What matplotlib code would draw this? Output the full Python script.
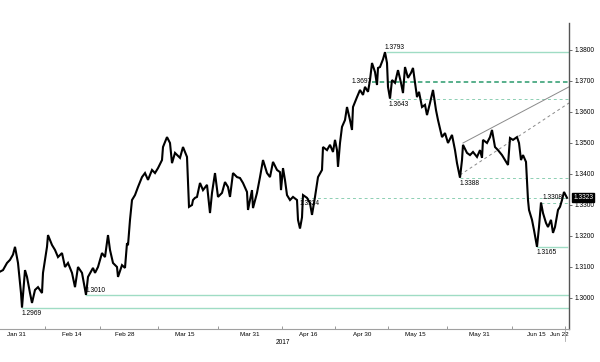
import matplotlib
matplotlib.use("Agg")
import matplotlib.pyplot as plt

plt.rcParams['font.family'] = ['Liberation Sans Narrow', 'Liberation Sans', 'DejaVu Sans']

# time index (chart sessions) and GBP price
t = [0, 3, 7, 10, 13, 15, 18, 21, 22, 25, 27, 30, 32, 35, 38, 42, 43, 45, 47, 48,
     52, 55, 58, 62, 65, 68, 72, 75, 78, 82, 86, 88, 93, 95, 98, 102, 105, 108, 110, 113,
     117, 118, 122, 125, 127, 128, 130, 132, 135, 138, 142, 145, 148, 152, 155, 158, 162, 163, 167, 170,
     172, 175, 180, 183, 187, 189, 192, 193, 195, 197, 200, 203, 207, 210, 212, 215, 218, 222, 225, 228,
     230, 233, 237, 240, 243, 247, 248, 252, 253, 257, 260, 263, 267, 270, 273, 277, 280, 281, 283, 285,
     287, 290, 293, 297, 298, 300, 302, 303, 307, 310, 312, 315, 318, 322, 323, 327, 330, 333, 335, 337,
     338, 340, 342, 345, 347, 350, 352, 353, 357, 360, 363, 365, 368, 370, 372, 375, 377, 378, 380, 383,
     385, 387, 388, 390, 392, 395, 398, 401, 403, 405, 408, 411, 413, 415, 417, 419, 422, 425, 427, 430,
     433, 436, 438, 442, 445, 448, 452, 455, 457, 460, 462, 463, 467, 470, 473, 477, 480, 482, 483, 487,
     490, 492, 495, 498, 502, 505, 508, 510, 513, 517, 519, 521, 523, 526, 528, 529, 532, 534, 537, 539,
     541, 543, 546, 548, 551, 553, 555, 558, 560, 562, 564, 567]
price = [1.3085, 1.3090, 1.3113, 1.3123, 1.3140, 1.3165, 1.3113, 1.3016, 1.2969, 1.3090, 1.3068, 1.3016, 1.2984, 1.3026, 1.3035, 1.3016, 1.3081, 1.3123, 1.3165, 1.3203,
         1.3171, 1.3155, 1.3132, 1.3145, 1.3100, 1.3113, 1.3081, 1.3035, 1.3100, 1.3081, 1.3010, 1.3068, 1.3097, 1.3081, 1.3100, 1.3145, 1.3132, 1.3203, 1.3155, 1.3113,
         1.3100, 1.3068, 1.3106, 1.3097, 1.3177, 1.3170, 1.3252, 1.3316, 1.3332, 1.3358, 1.3390, 1.3403, 1.3381, 1.3413, 1.3403, 1.3419, 1.3445, 1.3487, 1.3519, 1.3500,
         1.3435, 1.3468, 1.3452, 1.3487, 1.3455, 1.3294, 1.3300, 1.3316, 1.3323, 1.3326, 1.3371, 1.3348, 1.3365, 1.3274, 1.3339, 1.3403, 1.3326, 1.3339, 1.3374, 1.3358,
         1.3326, 1.3403, 1.3390, 1.3387, 1.3371, 1.3342, 1.3284, 1.3348, 1.3290, 1.3339, 1.3390, 1.3445, 1.3403, 1.3390, 1.3439, 1.3413, 1.3406, 1.3348, 1.3419, 1.3380,
         1.3332, 1.3316, 1.3326, 1.3316, 1.3252, 1.3224, 1.3260, 1.3332, 1.3323, 1.3306, 1.3268, 1.3326, 1.3390, 1.3413, 1.3487, 1.3477, 1.3494, 1.3471, 1.3510, 1.3477,
         1.3423, 1.3500, 1.3552, 1.3574, 1.3616, 1.3574, 1.3542, 1.3616, 1.3648, 1.3671, 1.3655, 1.3681, 1.3665, 1.3703, 1.3758, 1.3729, 1.3687, 1.3742, 1.3745, 1.3770,
         1.3793, 1.3758, 1.3681, 1.3643, 1.3703, 1.3694, 1.3735, 1.3694, 1.3661, 1.3745, 1.3710, 1.3726, 1.3742, 1.3694, 1.3648, 1.3665, 1.3616, 1.3623, 1.3590, 1.3629,
         1.3671, 1.3606, 1.3574, 1.3519, 1.3532, 1.3500, 1.3526, 1.3477, 1.3435, 1.3388, 1.3445, 1.3494, 1.3468, 1.3461, 1.3471, 1.3455, 1.3477, 1.3452, 1.3510, 1.3500,
         1.3519, 1.3542, 1.3487, 1.3477, 1.3461, 1.3445, 1.3429, 1.3516, 1.3510, 1.3519, 1.3500, 1.3445, 1.3461, 1.3439, 1.3316, 1.3284, 1.3252, 1.3219, 1.3165, 1.3229,
         1.3308, 1.3274, 1.3242, 1.3229, 1.3252, 1.3210, 1.3229, 1.3284, 1.3294, 1.3316, 1.3342, 1.3323]

last_price = 1.3323

# horizontal levels: value, start, label, style
levels = [1.3793, 1.3697, 1.3643, 1.3388, 1.3324, 1.3308, 1.3165, 1.3010, 1.2969]
level_start = [387, 372, 390, 460, 300, 541, 537, 86, 22]
level_end = [569, 569, 569, 569, 569, 569, 567, 569, 569]
level_style = ['solid', 'bold', 'dash', 'dash', 'dash', 'dash', 'solid', 'solid', 'solid']

# trend channel lines (start, end)
trend_solid = ([463, 569], [1.3500, 1.3681])
trend_dash = ([460, 569], [1.3397, 1.3629])

y_ticks = [1.30, 1.31, 1.32, 1.33, 1.34, 1.35, 1.36, 1.37, 1.38]
x_tick_marks = [45, 100, 158, 218, 282, 335, 388, 447, 512, 565]
x_label_pos = [16, 72, 125, 185, 250, 308, 362, 415, 479, 536, 559]
x_labels = ['Jan 31', 'Feb 14', 'Feb 28', 'Mar 15', 'Mar 31', 'Apr 16', 'Apr 30',
            'May 15', 'May 31', 'Jun 15', 'Jun 22']

fig = plt.figure(figsize=(6, 3.62), dpi=100)
ax = fig.add_axes([0, 1 - 329 / 362, 569 / 600, (329 - 23) / 362])
ax.set_xlim(0, 569)
ax.set_ylim(1.2900, 1.3887)

mint = '#9fdcc4'
dark = '#2a9a6c'
for v, s, e, st in zip(levels, level_start, level_end, level_style):
    if st == 'solid':
        ax.plot([s, e], [v, v], color=mint, lw=1.0, zorder=1)
    elif st == 'bold':
        ax.plot([s, e], [v, v], color=dark, lw=1.1, ls=(0, (3, 2)), zorder=1)
    else:
        ax.plot([s, e], [v, v], color='#8ccfb3', lw=0.7, ls=(0, (3, 3)), zorder=1)

ax.plot(*trend_solid, color='#8a8a8a', lw=0.7, zorder=1)
ax.plot(*trend_dash, color='#8a8a8a', lw=0.7, ls=(0, (3, 3)), zorder=1)

ax.plot(t, price, color='black', lw=1.5, zorder=3, solid_joinstyle='miter')

fs = 4.8
lab = dict(fontsize=fs, color='black', zorder=4)
ax.text(385, 1.3797, '1.3793', ha='left', va='bottom', **lab)
ax.text(372, 1.3697, '1.3697', ha='right', va='center', **lab)
ax.text(389, 1.3636, '1.3643', ha='left', va='top', **lab)
ax.text(460, 1.3381, '1.3388', ha='left', va='top', **lab)
ax.text(300, 1.3317, '1.3324', ha='left', va='top', **lab)
ax.text(543, 1.3313, '1.3308', ha='left', va='bottom', **lab)
ax.text(537, 1.3158, '1.3165', ha='left', va='top', **lab)
ax.text(86, 1.3014, '1.3010', ha='left', va='bottom', **lab)
ax.text(22, 1.2962, '1.2969', ha='left', va='top', **lab)

for sp in ['left', 'top']:
    ax.spines[sp].set_visible(False)
ax.spines['right'].set_color('#555555')
ax.spines['right'].set_linewidth(1.0)
ax.spines['bottom'].set_color('#a0a0a0')
ax.spines['bottom'].set_linewidth(0.8)

ax.yaxis.tick_right()
ax.set_yticks(y_ticks)
ax.set_yticklabels(['%.4f' % v for v in y_ticks])
ax.tick_params(axis='y', length=2, width=0.6, colors='#555555', labelcolor='black',
               labelsize=fs, pad=2)

ax.set_xticks(x_tick_marks)
ax.set_xticklabels([])
ax.tick_params(axis='x', which='major', length=2, width=0.6, direction='in', colors='#888888')
ax.set_xticks(x_label_pos, minor=True)
ax.set_xticklabels(x_labels, minor=True)
ax.tick_params(axis='x', which='minor', length=0, labelsize=4.5, labelcolor='black', pad=2)

ax.text(283, -0.033, '2017', transform=ax.get_xaxis_transform(), ha='center', va='top',
        fontsize=fs, color='black')
ax.plot([565, 565], [0, -0.04], transform=ax.get_xaxis_transform(), color='#aaaaaa',
        lw=0.6, clip_on=False)

ax.annotate('%.4f' % last_price, xy=(1.0, last_price), xycoords=('axes fraction', 'data'),
            xytext=(3, 0), textcoords='offset points', ha='left', va='center',
            fontsize=fs, color='white',
            bbox=dict(boxstyle='square,pad=0.15', fc='black', ec='black'))

fig.savefig('out.png', dpi=100, facecolor='white')
